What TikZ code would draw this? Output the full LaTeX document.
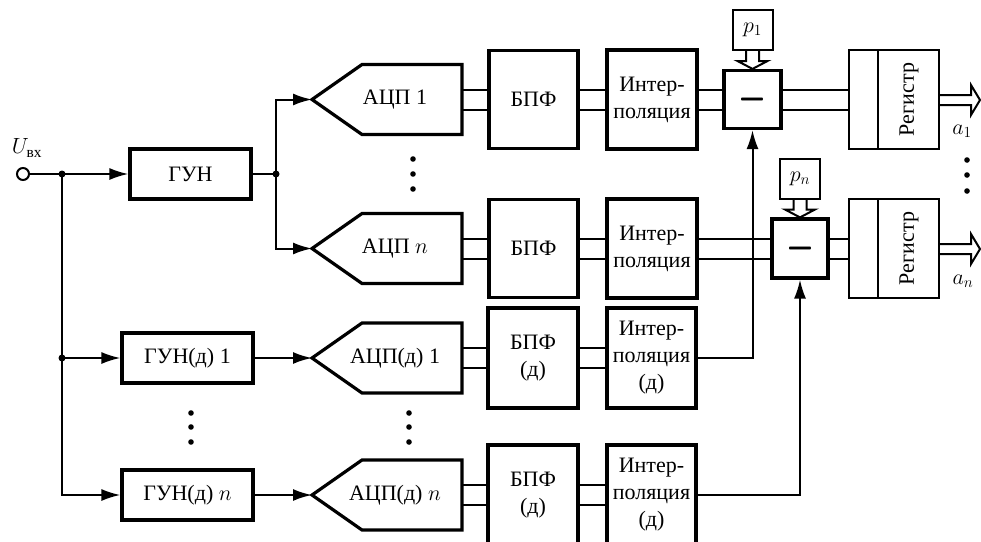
\RequirePackage{fix-cm}
\documentclass[tikz,border=0pt]{standalone}
\usepackage{amsmath}
\usepackage{graphicx}
\usepackage{fontspec}
\setmainfont{Liberation Serif}
\DeclareMathSizes{22}{22}{15.4}{11}
\DeclareMathSizes{24}{24}{17}{12}
\usetikzlibrary{arrows.meta,calc}
\newcommand\adcblock[3]{%
  \node[inner sep=0pt] (#1) at (#2) {#3};
  \draw[line width=3.2pt,line join=miter] ($(#1)+(-33,-35)$) -- ($(#1)+(67,-35)$) -- ($(#1)+(67,35)$) -- ($(#1)+(-33,35)$) -- ($(#1)+(-83,0)$) -- cycle;
  \coordinate (#1-in) at ($(#1)+(-83,0)$);
  \coordinate (#1-out) at ($(#1)+(67,0)$);
}
\newcommand\fatminus{\scalebox{1.5}[3]{$-$}}
\begin{document}
\begin{tikzpicture}[x=1pt,y=-1pt,
  font=\fontsize{22}{27}\selectfont,
  conn/.style={line width=2pt},
  arr/.style={conn,-{Latex[length=19pt,width=12pt]}},
  tbox/.style={draw,line width=3.2pt,rectangle,inner sep=0pt,align=center},
  nbox/.style={draw,line width=2pt,rectangle,inner sep=0pt,align=center},
  hollow/.style={line width=2pt,line join=miter},
]
\useasboundingbox (0,0) rectangle (981,541);

% input
\node[circle,draw,line width=2pt,minimum size=12pt,inner sep=0pt] (in) at (23,174) {};
\node (uin) at (27,148) {$U_{\text{вх}}$};
\coordinate (j1) at (62,174);
\coordinate (j2) at (276,174);
\coordinate (j3) at (62,358);

\node[tbox,minimum width=121pt,minimum height=50pt] (gun) at (190.5,174) {ГУН};
\node[tbox,minimum width=131pt,minimum height=50pt] (gund1) at (187.5,358) {ГУН(д) 1};
\node[tbox,minimum width=131pt,minimum height=50pt] (gundn) at (187.5,495) {ГУН(д) $n$};

\adcblock{adc1}{395,99.5}{АЦП 1}
\adcblock{adcn}{395,248.5}{АЦП $n$}
\adcblock{adcd1}{395,358}{АЦП(д) 1}
\adcblock{adcdn}{395,495}{АЦП(д) $n$}

\node[tbox,minimum width=89pt,minimum height=98pt] (fft1) at (533.5,99.5) {БПФ};
\node[tbox,minimum width=89pt,minimum height=98pt] (fftn) at (533.5,248.5) {БПФ};
\node[tbox,minimum width=90pt,minimum height=100pt] (fftd1) at (533,358) {БПФ\\(д)};
\node[tbox,minimum width=90pt,minimum height=100pt] (fftdn) at (533,495) {БПФ\\(д)};

\node[tbox,minimum width=90pt,minimum height=99pt] (int1) at (652,99.5) {Интер-\\поляция};
\node[tbox,minimum width=90pt,minimum height=99pt] (intn) at (652,248.5) {Интер-\\поляция};
\node[tbox,minimum width=89pt,minimum height=100pt] (intd1) at (651.5,358) {Интер-\\поляция\\(д)};
\node[tbox,minimum width=89pt,minimum height=100pt] (intdn) at (651.5,495) {Интер-\\поляция\\(д)};

\node[tbox,minimum width=57pt,minimum height=58pt,font=\fontsize{24}{26}\selectfont] (sub1) at (752.5,99.5) {\fatminus};
\node[tbox,minimum width=56pt,minimum height=59pt,font=\fontsize{24}{26}\selectfont] (subn) at (800,248.5) {\fatminus};
\node[nbox,minimum size=40pt] (p1) at (752.5,30) {$p_1$};
\node[nbox,minimum size=40pt] (pn) at (800,178.5) {$p_n$};

\node[nbox,minimum width=90pt,minimum height=99pt] (reg1) at (894,99.5) {};
\node[nbox,minimum width=90pt,minimum height=99pt] (regn) at (894,248.5) {};
\draw[line width=2pt] ($(reg1.north west)+(30,0)$) -- ($(reg1.south west)+(30,0)$);
\draw[line width=2pt] ($(regn.north west)+(30,0)$) -- ($(regn.south west)+(30,0)$);
\node[rotate=90] (reg1t) at ($(reg1)+(15,0)$) {Регистр};
\node[rotate=90] (regnt) at ($(regn)+(15,0)$) {Регистр};

\node (a1) at (962,131) {$a_1$};
\node (an) at (963,281) {$a_n$};

% single connectors
\draw[arr] (in) -- (gun.west);
\draw[conn] (gun.east) -- (j2);
\draw[arr] (j2) |- (adc1-in);
\draw[arr] (j2) |- (adcn-in);
\draw[arr] (j1) |- (gundn.west);
\draw[arr] (j3) -- (gund1.west);
\draw[arr] (gund1.east) -- (adcd1-in);
\draw[arr] (gundn.east) -- (adcdn-in);
\draw[arr] (intd1.east) -| (sub1.south);
\draw[arr] (intdn.east) -| (subn.south);
\foreach \j in {j1,j2,j3} \fill (\j) circle (3.5pt);

% double connectors
\foreach \a/\b in {adc1-out/fft1.west, fft1.east/int1.west, int1.east/sub1.west, sub1.east/reg1.west,
                   adcn-out/fftn.west, fftn.east/intn.west, intn.east/subn.west, subn.east/regn.west,
                   adcd1-out/fftd1.west, fftd1.east/intd1.west,
                   adcdn-out/fftdn.west, fftdn.east/intdn.west} {
  \draw[conn] ([yshift=10pt]\a) -- ([yshift=10pt]\b);
  \draw[conn] ([yshift=-10pt]\a) -- ([yshift=-10pt]\b);
}

% hollow arrows p -> subtractor
\foreach \p/\s in {p1/sub1, pn/subn} {
  \draw[hollow] ($(\p.south)+(-6.5,0)$) -- ($(\p.south)+(-6.5,10)$) -- ($(\p.south)+(-15,10)$) -- (\s.north)
     -- ($(\p.south)+(15,10)$) -- ($(\p.south)+(6.5,10)$) -- ($(\p.south)+(6.5,0)$);
}
% hollow output arrows
\foreach \r/\o in {reg1/out1, regn/outn} {
  \coordinate (\o) at ($(\r.east)+(40,0.5)$);
  \draw[hollow] ($(\r.east)+(0,-4.5)$) -- ($(\r.east)+(31,-4.5)$) -- ($(\r.east)+(31,-14.5)$) -- (\o)
     -- ($(\r.east)+(31,15.5)$) -- ($(\r.east)+(31,5.5)$) -- ($(\r.east)+(0,5.5)$);
}

% ellipsis dots
\foreach \y in {159,174,189} \fill (413,\y) circle (2.8pt);
\foreach \y in {160,175,191} \fill (967,\y) circle (2.8pt);
\foreach \y in {413,427,442} {\fill (191,\y) circle (2.8pt); \fill (409,\y) circle (2.8pt);}
\end{tikzpicture}
\end{document}
